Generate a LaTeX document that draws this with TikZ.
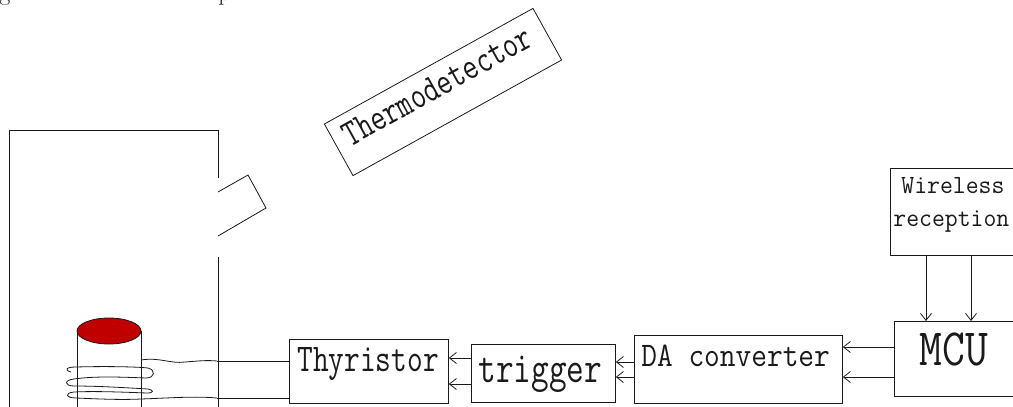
\documentclass[tikz,border=0pt]{standalone}
\usetikzlibrary{arrows.meta,calc}
\definecolor{ink}{HTML}{1A1A1A}
\definecolor{core}{HTML}{C00000}
% vertical stretch for the narrow monospaced labels
\newcommand{\tallbox}[2]{\scalebox{1}[#1]{#2}}
\begin{document}
\begin{tikzpicture}[x=1pt,y=-1pt,
  line width=0.8pt, color=ink,
  box/.style={draw, inner sep=0pt, anchor=north west},
  lbl/.style={inner sep=0pt, anchor=base west},
  sig/.style={-{Straight Barb[length=7pt,width=11pt]}},
]
\useasboundingbox (0,0) rectangle (1013,407);

% caption line above, cut off by the frame
\node[lbl, font=\fontsize{24}{26}\selectfont] (capg) at (-1,0) {g};
\node[lbl, font=\fontsize{24}{26}\selectfont] (capp) at (218,0) {p};

% furnace body with the sensor window
\draw (218,178) -- (218,130) -- (9,130) -- (9,407);
\draw (218,257) -- (218,407);
\draw (218,192) -- (248,175) -- (266,208) -- (218,236);

% heated core
\draw (77,331) -- (77,407);
\draw (141,331) -- (141,407);
\draw[fill=core] (109,331) ellipse [x radius=32pt, y radius=13pt];

% induction coil and its leads
\coordinate (leadA) at (217,361);
\coordinate (leadB) at (217,398);
\draw (141,360) .. controls (160,357) and (170,364) .. (185,362)
  .. controls (198,361) and (207,360) .. (leadA);
\draw (71,372) .. controls (64,370) and (66,367) .. (76,367)
  .. controls (110,366) and (140,367) .. (148,368)
  .. controls (156,370) and (155,378) .. (146,378)
  .. controls (120,377) and (95,376) .. (74,379)
  .. controls (64,380) and (64,386) .. (74,386)
  .. controls (100,386) and (130,388) .. (148,389)
  .. controls (154,390) and (154,393) .. (147,393)
  .. controls (120,392) and (95,391) .. (74,392)
  .. controls (64,393) and (66,398) .. (76,398)
  .. controls (100,399) and (120,400) .. (141,399)
  .. controls (170,398) and (195,396) .. (leadB);

% blocks
\node[box, minimum width=159pt, minimum height=64pt] (thy) at (289,339) {};
\node[box, minimum width=144pt, minimum height=58pt] (trig) at (471,344) {};
\node[box, minimum width=208pt, minimum height=68pt] (da) at (634,335) {};
\node[box, minimum width=140pt, minimum height=75pt] (mcu) at (894,321) {};
\node[box, minimum width=140pt, minimum height=87pt] (wrx) at (890,168) {};
\node[draw, inner sep=0pt, rotate=29, minimum width=238.5pt, minimum height=59pt] (thermo) at (443,92) {};

% block labels
\node[lbl, font=\ttfamily\fontsize{30.5}{32}\selectfont] (thylbl) at (297,371) {\tallbox{1.29}{Thyristor}};
\node[lbl, font=\ttfamily\fontsize{34.3}{36}\selectfont] (triglbl) at (478,382) {\tallbox{1.28}{trigger}};
\node[lbl, font=\ttfamily\fontsize{30.5}{32}\selectfont] (dalbl) at (641,366) {\tallbox{1.13}{DA converter}};
\node[lbl, font=\ttfamily\fontsize{44.4}{46}\selectfont] (mculbl) at (919,365) {\tallbox{1.18}{MCU}};
\node[lbl, font=\ttfamily\fontsize{25}{27}\selectfont] (wrxlblA) at (901,193) {\tallbox{1.05}{Wireless}};
\node[lbl, font=\ttfamily\fontsize{25}{27}\selectfont] (wrxlblB) at (893,226) {\tallbox{1.05}{reception}};
\node[inner sep=0pt, rotate=29, font=\ttfamily\fontsize{29.3}{31}\selectfont] (thermolbl) at (437,86) {\tallbox{1.3}{Thermodetector}};

% coil leads into the thyristor
\draw (leadA) -- ($(thy.north west)+(0,22)$);
\draw (leadB) -- ($(thy.north west)+(0,59)$);

% signal paths
\draw[sig] ($(wrx.south west)+(36,0)$) -- ($(mcu.north west)+(32,0)$);
\draw[sig] ($(wrx.south west)+(81,0)$) -- ($(mcu.north west)+(77,0)$);
\draw[sig] ($(mcu.north west)+(0,26)$) -- ($(da.north east)+(0,12)$);
\draw[sig] ($(mcu.north west)+(0,56)$) -- ($(da.north east)+(0,42)$);
\draw[sig] ($(da.north west)+(0,27)$) -- ($(trig.north east)+(0,18)$);
\draw[sig] ($(da.north west)+(0,42)$) -- ($(trig.north east)+(0,33)$);
\draw[sig] ($(trig.north west)+(0,14)$) -- ($(thy.north east)+(0,19)$);
\draw[sig] ($(trig.north west)+(0,40)$) -- ($(thy.north east)+(0,45)$);
\end{tikzpicture}
\end{document}
